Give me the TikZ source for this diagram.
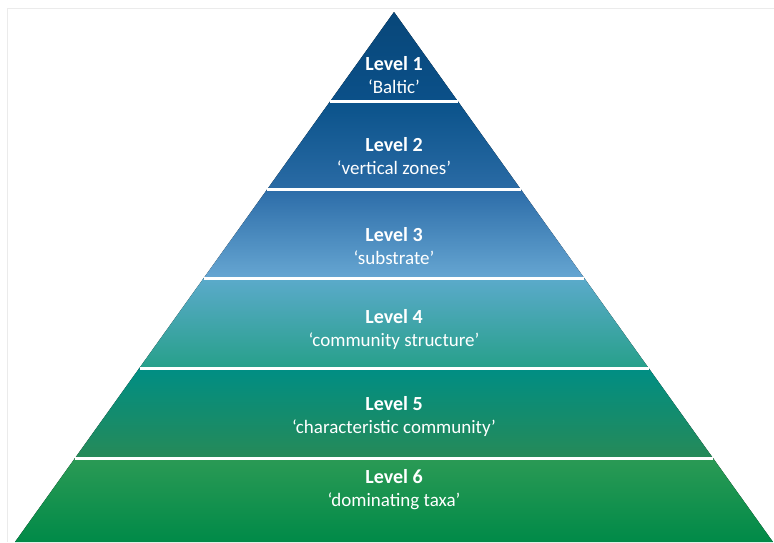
\documentclass[tikz,border=0pt]{standalone}
\usepackage{fontspec}
\setmainfont{Carlito}
\usepackage{tikz}
\usetikzlibrary{positioning}
\definecolor{bandAtop}{HTML}{084779}
\definecolor{bandAbot}{HTML}{0B5089}
\definecolor{bandBtop}{HTML}{0A528A}
\definecolor{bandBbot}{HTML}{2A6BA5}
\definecolor{bandCtop}{HTML}{2C6CA8}
\definecolor{bandCbot}{HTML}{66A6D2}
\definecolor{bandDtop}{HTML}{5BAACB}
\definecolor{bandDbot}{HTML}{27A08A}
\definecolor{bandEtop}{HTML}{008E84}
\definecolor{bandEmid}{HTML}{008B68}
\definecolor{bandEbot}{HTML}{268A58}
\definecolor{bandFtop}{HTML}{2B9A55}
\definecolor{bandFbot}{HTML}{008A48}
\definecolor{framegray}{HTML}{EBEBEB}
\tikzstyle{sepline}=[white, line width=3pt]
\tikzstyle{lvltext}=[text=white, align=center, inner sep=0pt, font=\fontsize{19}{23}\selectfont]
\newcommand{\lvlhead}[1]{{\fontsize{20}{23}\selectfont\bfseries #1}}

\begin{document}
\begin{tikzpicture}[x=1pt,y=-1pt]
\useasboundingbox (0,0) rectangle (774,542);

% faint frame
\draw[framegray, line width=1pt] (7,542) -- (7,8) -- (774,8);

% pyramid bands
\begin{scope}
\clip (394,12) -- (773,542) -- (15,542) -- cycle;
\fill[top color=bandAtop, bottom color=bandAbot] (0,10) rectangle (774,101);
\fill[top color=bandBtop, bottom color=bandBbot] (0,101) rectangle (774,189);
\fill[top color=bandCtop, bottom color=bandCbot] (0,189) rectangle (774,278);
\fill[top color=bandDtop, bottom color=bandDbot] (0,278) rectangle (774,368);
\fill[top color=bandEtop, middle color=bandEmid, bottom color=bandEbot] (0,368) rectangle (774,458);
\fill[top color=bandFtop, bottom color=bandFbot] (0,458) rectangle (774,542);
\end{scope}

\draw[sepline] (330.4,101) -- (457.6,101);
\draw[sepline] (267.4,189) -- (520.6,189);
\draw[sepline] (203.8,278) -- (584.2,278);
\draw[sepline] (139.5,368) -- (648.5,368);
\draw[sepline] (75.1,458) -- (712.9,458);

% labels
\node[lvltext](l1) at (394,75) {\lvlhead{Level 1}\\‘Baltic’};
\node[lvltext](l2) at (394,156.5) {\lvlhead{Level 2}\\‘vertical zones’};
\node[lvltext](l3) at (394,246) {\lvlhead{Level 3}\\‘substrate’};
\node[lvltext](l4) at (394,330) {\lvlhead{Level 4}\\‘community structure’};
\node[lvltext](l5) at (394,417) {\lvlhead{Level 5}\\‘characteristic community’};
\node[lvltext](l6) at (394,490) {\lvlhead{Level 6}\\‘dominating taxa’};

\end{tikzpicture}
\end{document}
